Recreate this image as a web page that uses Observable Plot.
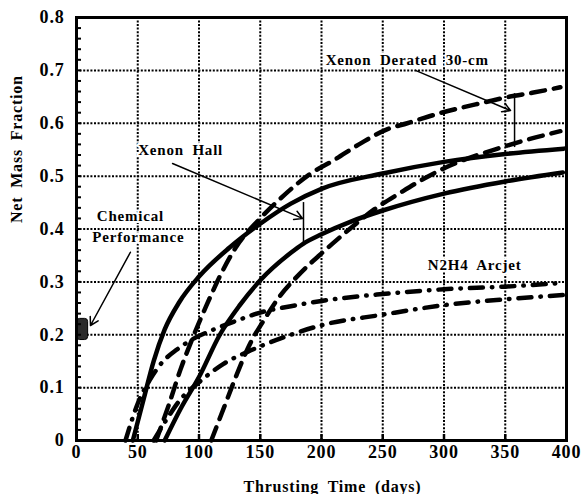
<!DOCTYPE html>
<html><head><meta charset="utf-8">
<script src="https://cdn.jsdelivr.net/npm/d3@7"></script>
<script src="https://cdn.jsdelivr.net/npm/@observablehq/plot@0.6"></script>
<style>
html,body{margin:0;padding:0;background:#fff;}
#chart svg text{letter-spacing:0.8px;word-spacing:4px;}
</style></head><body><div id="chart"></div>
<script>
// Axis ticks
const xTicks = [0, 50, 100, 150, 200, 250, 300, 350, 400];
const xTickLabels = ["0", "50", "100", "150", "200", "250", "300", "350", "400"];
const yTicks = [0, 0.1, 0.2, 0.3, 0.4, 0.5, 0.6, 0.7, 0.8];
const yTickLabels = ["0", "0.1", "0.2", "0.3", "0.4", "0.5", "0.6", "0.7", "0.8"];
const minorY = d3.range(1, 40).map(i => i / 50);

// Xenon Hall (solid)
const hallUpperX = [46, 55, 63, 72, 84, 100, 125, 150, 175, 200, 250, 300, 350, 398];
const hallUpperY = [0, 0.08, 0.15, 0.21, 0.262, 0.31, 0.365, 0.41, 0.448, 0.476, 0.505, 0.527, 0.542, 0.552];
const hallLowerX = [72, 85, 100, 117, 133, 150, 175, 185, 200, 225, 250, 300, 350, 397];
const hallLowerY = [0, 0.06, 0.12, 0.2, 0.255, 0.303, 0.355, 0.372, 0.39, 0.415, 0.435, 0.467, 0.49, 0.507];

// Xenon Derated 30-cm (dashed)
const ionUpperX = [65, 75, 85, 95, 106, 118, 130, 150, 170, 190, 210, 232, 253, 270, 295, 334, 353, 373, 395];
const ionUpperY = [0, 0.065, 0.135, 0.195, 0.255, 0.315, 0.365, 0.42, 0.465, 0.503, 0.53, 0.562, 0.588, 0.6, 0.618, 0.64, 0.65, 0.658, 0.668];
const ionLowerX = [110, 120, 130, 140, 155, 165, 180, 203, 223, 243, 264, 285, 305, 345, 365, 395];
const ionLowerY = [0, 0.06, 0.12, 0.175, 0.235, 0.27, 0.31, 0.36, 0.4, 0.437, 0.468, 0.497, 0.52, 0.553, 0.567, 0.585];

// N2H4 Arcjet (dash-dot)
const arcUpperX = [40, 50, 60, 70, 82, 95, 110, 130, 150, 175, 200, 250, 300, 350, 397];
const arcUpperY = [0, 0.07, 0.115, 0.148, 0.172, 0.192, 0.208, 0.226, 0.242, 0.254, 0.264, 0.277, 0.286, 0.291, 0.298];
const arcLowerX = [63, 75, 85, 100, 120, 140, 150, 175, 200, 250, 300, 350, 397];
const arcLowerY = [0, 0.045, 0.078, 0.11, 0.145, 0.168, 0.178, 0.2, 0.218, 0.238, 0.256, 0.267, 0.275];

// Chemical performance marker
const chemX1 = [0.5], chemX2 = [9.5], chemY1 = [0.19], chemY2 = [0.23];

// Annotations
const annoText = ["Xenon Derated 30-cm", "Xenon Hall", "Chemical", "Performance", "N2H4 Arcjet"];
const annoX = [270, 85, 44, 50.5, 325];
const annoY = [0.72, 0.55, 0.425, 0.384, 0.331];

const arrowX1 = [276.7, 78.4, 44];
const arrowY1 = [0.70, 0.524, 0.356];
const arrowX2 = [354.3, 184.5, 11.4];
const arrowY2 = [0.624, 0.42, 0.2175];

const bracketX = [185.3, 357.6];
const bracketY1 = [0.374, 0.554];
const bracketY2 = [0.45, 0.656];

const rows = (xs, ys) => xs.map((x, i) => ({x, y: ys[i]}));
const annos = annoText.map((t, i) => ({t, x: annoX[i], y: annoY[i]}));
const arrows = arrowX1.map((x1, i) => ({x1, y1: arrowY1[i], x2: arrowX2[i], y2: arrowY2[i]}));
const brackets = bracketX.map((x, i) => ({x, y1: bracketY1[i], y2: bracketY2[i]}));
const chem = chemX1.map((x1, i) => ({x1, x2: chemX2[i], y1: chemY1[i], y2: chemY2[i]}));
const xDom = [xTicks[0], xTicks[xTicks.length - 1]];
const yDom = [yTicks[0], yTicks[yTicks.length - 1]];
const gridXRows = xTicks.slice(1, -1).map(x => ({x, y1: yDom[0], y2: yDom[1]}));
const gridYRows = yTicks.slice(1, -1).map(y => ({y, x1: xDom[0], x2: xDom[1]}));

const lineOpts = {x: "x", y: "y", curve: "monotone-x", stroke: "black", strokeWidth: 4.5};
const gridOpts = {stroke: "black", strokeWidth: 2, strokeDasharray: "2,1.6"};

const chart = Plot.plot({
  width: 587, height: 494,
  marginTop: 17, marginRight: 21, marginBottom: 54, marginLeft: 76,
  x: {domain: xDom, label: null},
  y: {domain: yDom, label: null},
  style: {fontFamily: "'Liberation Serif', serif", fontWeight: "bold", fontSize: "18px", background: "white", color: "black"},
  marks: [
    Plot.ruleX(gridXRows, {x: "x", y1: "y1", y2: "y2", ...gridOpts}),
    Plot.ruleY(gridYRows, {y: "y", x1: "x1", x2: "x2", ...gridOpts}),
    Plot.line(rows(hallUpperX, hallUpperY), lineOpts),
    Plot.line(rows(hallLowerX, hallLowerY), lineOpts),
    Plot.line(rows(ionUpperX, ionUpperY), {...lineOpts, strokeDasharray: "14,9"}),
    Plot.line(rows(ionLowerX, ionLowerY), {...lineOpts, strokeDasharray: "14,9"}),
    Plot.line(rows(arcUpperX, arcUpperY), {...lineOpts, strokeLinecap: "round", strokeDasharray: "13,9,0.5,9"}),
    Plot.line(rows(arcLowerX, arcLowerY), {...lineOpts, strokeLinecap: "round", strokeDasharray: "13,9,0.5,9"}),
    Plot.rect(chem, {x1: "x1", x2: "x2", y1: "y1", y2: "y2", fill: "#2a2a2a", stroke: "black", rx: 3}),
    Plot.text(annos, {x: "x", y: "y", text: "t", fontSize: 15, fontWeight: "bold", fill: "black", stroke: "white", strokeWidth: 4}),
    Plot.arrow(arrows, {x1: "x1", y1: "y1", x2: "x2", y2: "y2", stroke: "black", strokeWidth: 1.5, headLength: 9}),
    Plot.ruleX(brackets, {x: "x", y1: "y1", y2: "y2", stroke: "black", strokeWidth: 1.5}),
    Plot.frame({stroke: "black", strokeWidth: 3}),
    Plot.axisY(minorY, {anchor: "right", frameAnchor: "left", tickSize: 4, strokeWidth: 2, tickFormat: () => "", label: null}),
    Plot.axisX(xTicks.slice(1, -1), {anchor: "top", frameAnchor: "bottom", tickSize: 7, strokeWidth: 2.5, tickFormat: () => "", label: null}),
    Plot.axisY(yTicks, {anchor: "left", tickSize: 0, tickPadding: 12, fontSize: 18, tickFormat: (d, i) => yTickLabels[i], label: null}),
    Plot.axisX(xTicks, {anchor: "bottom", tickSize: 0, tickPadding: 5, fontSize: 18, tickFormat: (d, i) => xTickLabels[i], label: null}),
    Plot.text(["Thrusting Time (days)"], {text: d => d, frameAnchor: "bottom", dy: 51, dx: 11, lineAnchor: "bottom", fontSize: 16, fontWeight: "bold"}),
    Plot.text(["Net Mass Fraction"], {text: d => d, frameAnchor: "left", dx: -60, dy: -6, rotate: -90, fontSize: 16, fontWeight: "bold"})
  ]
});
document.getElementById("chart").appendChild(chart);
</script></body></html>
